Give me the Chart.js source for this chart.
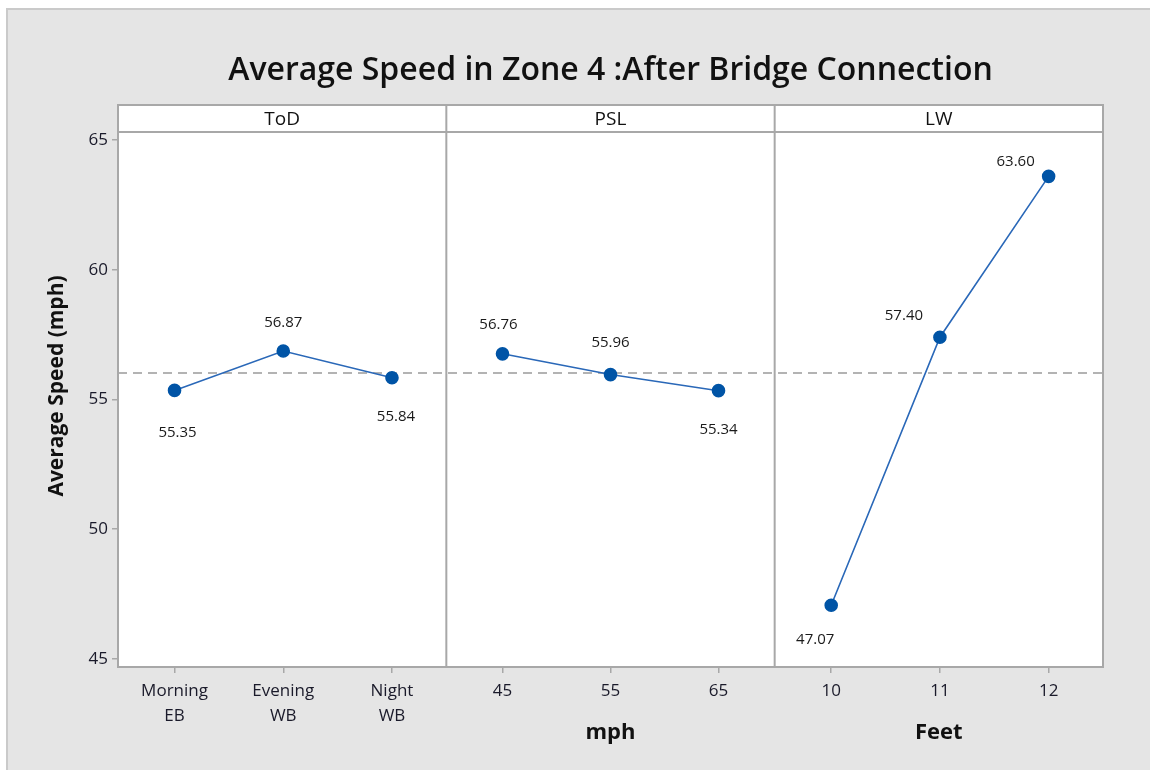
<!DOCTYPE html>
<html>
<head>
<meta charset="utf-8">
<script src="https://cdn.jsdelivr.net/npm/chart.js@4"></script>
<style>
  body { margin: 0; background: #fff; }
  #wrap { width: 1150px; height: 770px; position: relative; }
</style>
</head>
<body>
<div id="wrap"><canvas id="grafico" width="1150" height="770"></canvas></div>
<script>
// valori (main effects plot)
var titolo = 'Average Speed in Zone 4 :After Bridge Connection';
var pannelli = ['ToD', 'PSL', 'LW'];

var todLivelli = [0, 1, 2];
var todEtichette = [['Morning', 'EB'], ['Evening', 'WB'], ['Night', 'WB']];
var todMedie = [55.35, 56.87, 55.84];

var pslLivelli = [45, 55, 65];
var pslMedie = [56.76, 55.96, 55.34];

var lwLivelli = [10, 11, 12];
var lwMedie = [47.07, 57.40, 63.60];

var yTicks = [45, 50, 55, 60, 65];
var mediaGenerale = 56.02;

// posizione delle etichette dei valori (dx, dy in px dal punto)
var posEtichette = [
  [[3, 42], [0, -28], [4, 39]],
  [[-4, -29], [0, -32], [0, 39]],
  [[-16, 34], [-36, -21], [-33, -15]]
];

var FONT = '"Open Sans", "Noto Sans", sans-serif';
var GRIGIO = '#a8a8a8';
var BLU = '#0054a6';

function punti(xs, ys) {
  return xs.map(function (x, i) { return { x: x, y: ys[i] }; });
}

function assex(min, max, livelli, etichette, titoloAsse) {
  return {
    type: 'linear',
    position: 'bottom',
    stack: 'pannelli',
    stackWeight: 1,
    min: min,
    max: max,
    afterBuildTicks: function (s) { s.ticks = livelli.map(function (v) { return { value: v }; }); },
    afterFit: function (s) { s.height = 103; },
    ticks: {
      autoSkip: false,
      maxRotation: 0,
      padding: 6,
      color: '#1a1a2a',
      font: { family: FONT, size: 17, lineHeight: 1.45 },
      callback: function (v) {
        var i = livelli.indexOf(v);
        return etichette ? etichette[i] : String(v);
      }
    },
    grid: { drawOnChartArea: false, drawTicks: true, tickLength: 6, color: GRIGIO, lineWidth: 1.5 },
    border: { display: true, color: GRIGIO, width: 2 },
    title: {
      display: !!titoloAsse,
      text: titoloAsse || '',
      color: '#111',
      font: { family: FONT, size: 22, weight: 'bold' },
      padding: { top: 0, bottom: 24 }
    }
  };
}

var sfondoPlugin = {
  id: 'sfondo',
  beforeDraw: function (chart) {
    var ctx = chart.ctx;
    ctx.save();
    ctx.fillStyle = '#ffffff';
    ctx.fillRect(0, 0, chart.width, chart.height);
    ctx.fillStyle = '#e5e5e5';
    ctx.fillRect(6, 8, chart.width - 6, chart.height - 8);
    ctx.strokeStyle = '#cacaca';
    ctx.lineWidth = 2;
    ctx.strokeRect(7, 9, chart.width, chart.height);
    var a = chart.chartArea;
    ctx.fillStyle = '#ffffff';
    ctx.fillRect(a.left, a.top, a.right - a.left, a.bottom - a.top);
    // titolo centrato sull'area del grafico
    ctx.fillStyle = '#111';
    ctx.font = '600 32px ' + FONT;
    ctx.textAlign = 'center';
    ctx.textBaseline = 'middle';
    ctx.fillText(titolo, (a.left + a.right) / 2, 71);
    ctx.restore();
  },
  beforeDatasetsDraw: function (chart) {
    var ctx = chart.ctx;
    var a = chart.chartArea;
    var y = chart.scales.y;
    var yHeader = y.getPixelForValue(65.31);
    ctx.save();
    // linea della media
    ctx.strokeStyle = '#9a9a9a';
    ctx.lineWidth = 1.5;
    ctx.setLineDash([9, 6]);
    var ym = y.getPixelForValue(mediaGenerale);
    ctx.beginPath();
    ctx.moveTo(a.left, ym);
    ctx.lineTo(a.right, ym);
    ctx.stroke();
    ctx.setLineDash([]);
    // cornice e divisori
    ctx.strokeStyle = GRIGIO;
    ctx.lineWidth = 2;
    ctx.strokeRect(a.left, a.top, a.right - a.left, a.bottom - a.top);
    ctx.beginPath();
    ctx.moveTo(a.left, yHeader);
    ctx.lineTo(a.right, yHeader);
    ['xPsl', 'xLw'].forEach(function (id) {
      var s = chart.scales[id];
      ctx.moveTo(s.left, a.top);
      ctx.lineTo(s.left, a.bottom);
    });
    ctx.stroke();
    // intestazioni dei pannelli
    ctx.fillStyle = '#111';
    ctx.font = '19px ' + FONT;
    ctx.textAlign = 'center';
    ctx.textBaseline = 'middle';
    ['xTod', 'xPsl', 'xLw'].forEach(function (id, i) {
      var s = chart.scales[id];
      ctx.fillText(pannelli[i], (s.left + s.right) / 2, (a.top + yHeader) / 2 + 1);
    });
    ctx.restore();
  },
  afterDatasetsDraw: function (chart) {
    var ctx = chart.ctx;
    ctx.save();
    ctx.fillStyle = '#1a1a1a';
    ctx.font = '15px ' + FONT;
    ctx.textAlign = 'center';
    ctx.textBaseline = 'middle';
    chart.data.datasets.forEach(function (ds, d) {
      var meta = chart.getDatasetMeta(d);
      meta.data.forEach(function (p, i) {
        var off = posEtichette[d][i];
        ctx.fillText(ds.data[i].y.toFixed(2), p.x + off[0], p.y + off[1]);
      });
    });
    ctx.restore();
  }
};

function stileSerie(data, asse) {
  return {
    data: data,
    xAxisID: asse,
    yAxisID: 'y',
    showLine: true,
    borderColor: '#2a68b8',
    borderWidth: 1.6,
    backgroundColor: BLU,
    pointBackgroundColor: BLU,
    pointBorderColor: BLU,
    pointRadius: 6,
    pointHoverRadius: 6,
    tension: 0
  };
}

new Chart(document.getElementById('grafico'), {
  type: 'scatter',
  data: {
    datasets: [
      stileSerie(punti(todLivelli, todMedie), 'xTod'),
      stileSerie(punti(pslLivelli, pslMedie), 'xPsl'),
      stileSerie(punti(lwLivelli, lwMedie), 'xLw')
    ]
  },
  plugins: [sfondoPlugin],
  options: {
    responsive: false,
    animation: false,
    layout: { padding: { left: 20, right: 47, top: 105, bottom: 0 } },
    plugins: {
      legend: { display: false },
      tooltip: { enabled: false },
      title: { display: false }
    },
    scales: {
      xTod: assex(-0.52, 2.5, todLivelli, todEtichette, null),
      xPsl: assex(39.8, 70.2, pslLivelli, null, 'mph'),
      xLw: assex(9.48, 12.5, lwLivelli, null, 'Feet'),
      y: {
        type: 'linear',
        position: 'left',
        min: 44.69,
        max: 66.35,
        afterBuildTicks: function (s) { s.ticks = yTicks.map(function (v) { return { value: v }; }); },
        afterFit: function (s) { s.width = 98; },
        ticks: {
          padding: 4,
          color: '#1a1a2a',
          font: { family: FONT, size: 17 }
        },
        grid: { drawOnChartArea: false, drawTicks: true, tickLength: 6, color: GRIGIO, lineWidth: 1.5 },
        border: { display: true, color: GRIGIO, width: 2 },
        title: {
          display: true,
          text: 'Average Speed (mph)',
          color: '#111',
          font: { family: FONT, size: 21, weight: 'bold' },
          padding: { top: 24, bottom: 0 }
        }
      }
    }
  }
});
</script>
</body>
</html>
